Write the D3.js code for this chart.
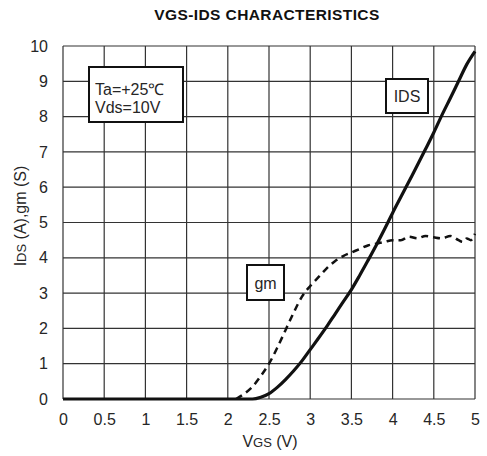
<!DOCTYPE html>
<meta charset="utf-8">
<style>
body { margin: 0; background: #fff; }
text { font-family: "Liberation Sans", Arial, sans-serif; fill: #262626; }
.grid line { stroke: #333; stroke-width: 1.2px; }
.box { fill: #fff; stroke: #111; stroke-width: 2px; }
</style>
<body>
<script src="https://d3js.org/d3.v7.min.js"></script>
<script>
// values
var vgs = [0, 2.2, 2.3, 2.4, 2.5, 2.6, 2.7, 2.8, 2.9, 3.0, 3.1, 3.2, 3.3, 3.4, 3.5, 3.6, 3.7, 3.8, 3.9, 4.0, 4.1, 4.2, 4.3, 4.4, 4.5, 4.6, 4.7, 4.8, 4.9, 5.0];
var ids = [0, 0, 0.0, 0.05, 0.15, 0.33, 0.55, 0.8, 1.08, 1.4, 1.72, 2.05, 2.4, 2.75, 3.1, 3.5, 3.92, 4.35, 4.8, 5.27, 5.72, 6.17, 6.62, 7.08, 7.55, 8.05, 8.52, 9.0, 9.48, 9.85];
var gmV = [2.1, 2.2, 2.3, 2.4, 2.5, 2.6, 2.7, 2.8, 2.9, 3.0, 3.1, 3.2, 3.3, 3.4, 3.5, 3.6, 3.7, 3.8, 3.9, 4.0, 4.1, 4.2, 4.3, 4.4, 4.5, 4.6, 4.7, 4.8, 4.85, 4.9, 4.95, 5.0];
var gm = [0, 0.15, 0.35, 0.65, 1.0, 1.45, 1.95, 2.45, 2.9, 3.2, 3.45, 3.7, 3.9, 4.05, 4.15, 4.25, 4.35, 4.4, 4.45, 4.5, 4.5, 4.6, 4.55, 4.62, 4.58, 4.55, 4.62, 4.5, 4.45, 4.55, 4.5, 4.68];
var xTicks = [0, 0.5, 1, 1.5, 2, 2.5, 3, 3.5, 4, 4.5, 5];
var yTicks = [0, 1, 2, 3, 4, 5, 6, 7, 8, 9, 10];

var margin = {top: 46, right: 12, bottom: 57, left: 63},
    width = 487 - margin.left - margin.right,
    height = 456 - margin.top - margin.bottom;

var x = d3.scaleLinear().domain([0, 5]).range([0, width]);
var y = d3.scaleLinear().domain([0, 10]).range([height, 0]);

var svgRoot = d3.select("body").append("svg")
    .attr("width", 487)
    .attr("height", 456);

svgRoot.append("text")
    .attr("x", 267).attr("y", 20)
    .attr("text-anchor", "middle")
    .style("font-size", "15.5px").style("font-weight", "bold")
    .style("letter-spacing", "0.4px")
    .style("fill", "#111")
    .text("VGS-IDS CHARACTERISTICS");

var svg = svgRoot.append("g")
    .attr("transform", "translate(" + margin.left + "," + margin.top + ")");

// grid
var grid = svg.append("g").attr("class", "grid");
grid.selectAll(".vx").data(xTicks).enter().append("line")
    .attr("x1", function(d) { return x(d); }).attr("x2", function(d) { return x(d); })
    .attr("y1", 0).attr("y2", height);
grid.selectAll(".hy").data(yTicks).enter().append("line")
    .attr("x1", 0).attr("x2", width)
    .attr("y1", function(d) { return y(d); }).attr("y2", function(d) { return y(d); });

// axes
var xAxis = svg.append("g")
    .attr("transform", "translate(0," + height + ")")
    .call(d3.axisBottom(x).tickValues(xTicks).tickSize(0).tickPadding(15).tickFormat(d3.format("")));
var yAxis = svg.append("g")
    .call(d3.axisLeft(y).tickValues(yTicks).tickSize(0).tickPadding(15));
[xAxis, yAxis].forEach(function(a) {
  a.select(".domain").remove();
  a.selectAll("text").style("font-size", "16px").style("font-family", "Liberation Sans, Arial, sans-serif").attr("fill", "#262626");
});

// x axis label
var xl = svgRoot.append("text")
    .attr("x", 270).attr("y", 447)
    .attr("text-anchor", "middle")
    .style("font-size", "16px");
xl.append("tspan").text("V");
xl.append("tspan").style("font-size", "13px").text("GS");
xl.append("tspan").text(" (V)");

// y axis label
var yl = svgRoot.append("text")
    .attr("transform", "translate(26,216) rotate(-90)")
    .attr("text-anchor", "middle")
    .style("font-size", "16px");
yl.append("tspan").text("I");
yl.append("tspan").style("font-size", "13px").text("DS");
yl.append("tspan").text(" (A),gm (S)");

// curves
var idsData = vgs.map(function(v, i) { return [v, ids[i]]; });
var gmData = gmV.map(function(v, i) { return [v, gm[i]]; });
var line = d3.line()
    .x(function(d) { return x(d[0]); })
    .y(function(d) { return y(d[1]); })
    .curve(d3.curveMonotoneX);

svg.append("path")
    .datum(gmData)
    .attr("fill", "none")
    .attr("stroke", "#111")
    .attr("stroke-width", 2.5)
    .attr("stroke-dasharray", "7,5")
    .attr("d", line);

svg.append("path")
    .datum(idsData)
    .attr("fill", "none")
    .attr("stroke", "#111")
    .attr("stroke-width", 3.2)
    .attr("d", line);

// annotation boxes
function labelBox(x0, y0, w, h, lines) {
  svgRoot.append("rect").attr("class", "box")
      .attr("x", x0).attr("y", y0).attr("width", w).attr("height", h);
  lines.forEach(function(t, i) {
    svgRoot.append("text")
        .attr("x", x0 + (lines.length > 1 ? 6 : w / 2))
        .attr("y", y0 + (lines.length > 1 ? 28 + i * 18 : h / 2 + 6))
        .attr("text-anchor", lines.length > 1 ? "start" : "middle")
        .style("font-size", "16px")
        .text(t);
  });
}
labelBox(89, 67, 94, 55, ["Ta=+25\u2103", "Vds=10V"]);
labelBox(386, 79, 42, 34, ["IDS"]);
labelBox(247, 265, 37, 35, ["gm"]);
</script>
</body>
